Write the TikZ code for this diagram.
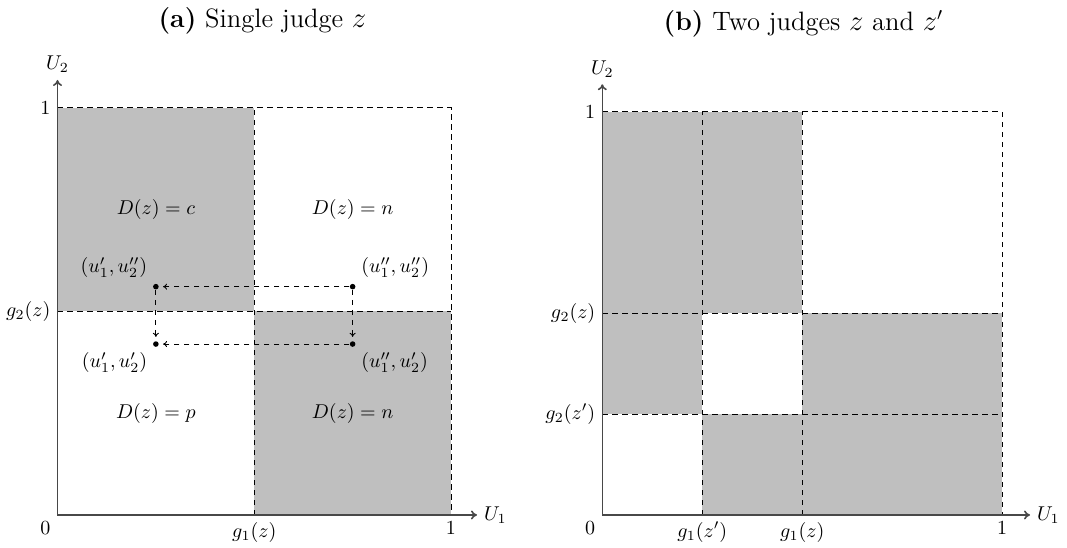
\documentclass[tikz,border=0pt]{standalone}
\usepackage{amsmath}
\usepackage{tikz}
\usetikzlibrary{arrows.meta,positioning,calc}
\definecolor{clrAx}{RGB}{72,72,72}
\definecolor{clrSh}{RGB}{191,191,191}
\tikzset{
  axis/.style={-{To[length=3pt,width=4.5pt]},line width=0.8pt,color=clrAx},
  cutline/.style={dashed,dash pattern=on 2.6pt off 2.4pt,line width=0.5pt},
  region/.style={fill=clrSh},
  move/.style={-{To[length=2pt,width=3pt]},dash pattern=on 2.6pt off 2.4pt,
    line width=0.45pt,shorten >=2pt},
  ptdot/.style={circle,fill=black,inner sep=0pt,minimum size=2.8pt},
  ptlab/.style={inner sep=3pt},
  cell/.style={inner sep=2pt},
  panel/.style={font=\fontsize{13.3}{16}\selectfont}
}

\begin{document}
\begin{tikzpicture}[x=1cm,y=1cm,font=\normalsize]
  \def\wa{6.915}
  \def\ha{7.152}
  \def\wb{7.024}
  \def\hb{7.082}
  \useasboundingbox (-1.0104,-0.5799) rectangle (17.740,9.050);

  \node[panel] (capa) at (3.602,8.685) {\textbf{(a)} Single judge $z$};
  \node[panel] (capb) at (13.109,8.628) {\textbf{(b)} Two judges $z$ and $z'$};

  \fill[region] (0,0.5*\ha) rectangle (0.5*\wa,\ha);
  \fill[region] (0.5*\wa,0) rectangle (\wa,0.5*\ha);

  \draw[cutline] (0,\ha) -- (\wa,\ha) -- (\wa,0);
  \draw[cutline] (0.5*\wa,0) -- (0.5*\wa,\ha);
  \draw[cutline] (0,0.5*\ha) -- (\wa,0.5*\ha);

  \coordinate (oa) at (0,0);
  \coordinate (xa) at (7.372,0);
  \coordinate (ya) at (0,7.644);
  \draw[axis] (oa) -- (xa);
  \draw[axis] (oa) -- (ya);

  \node[right] (ua1) at (xa) {$U_1$};
  \node[above] (ua2) at (ya) {$U_2$};
  \node[below left] (za) at (oa) {$0$};
  \node[below] (g1a) at (0.5*\wa,0) {$g_1(z)$};
  \node[below] (x1a) at (\wa,0) {$1$};
  \node[left] (y1a) at (0,\ha) {$1$};
  \node[left] (g2a) at (0,0.5*\ha) {$g_2(z)$};

  \node[cell] (dc) at (0.25*\wa,0.75*\ha) {$D(z)=c$};
  \node[cell] (dn) at (0.75*\wa,0.75*\ha) {$D(z)=n$};
  \node[cell] (dp) at (0.25*\wa,0.25*\ha) {$D(z)=p$};
  \node[cell] (dn2) at (0.75*\wa,0.25*\ha) {$D(z)=n$};

  \node[ptdot,label={[ptlab]above left:$(u_1',u_2'')$}] (ph) at (0.25*\wa,0.561*\ha) {};
  \node[ptdot,label={[ptlab]above right:$(u_1'',u_2'')$}] (hh) at (0.75*\wa,0.561*\ha) {};
  \node[ptdot,label={[ptlab]below left:$(u_1',u_2')$}] (pp) at (0.25*\wa,0.42*\ha) {};
  \node[ptdot,label={[ptlab]below right:$(u_1'',u_2')$}] (hp) at (0.75*\wa,0.42*\ha) {};

  \draw[move] (hh) -- (ph);
  \draw[move] (hp) -- (pp);
  \draw[move] (ph) -- (pp);
  \draw[move] (hh) -- (hp);

  \begin{scope}[shift={(9.574,0)}]
    \fill[region] (0,0.25*\hb) rectangle (0.25*\wb,\hb);
    \fill[region] (0.25*\wb,0) rectangle (0.5*\wb,0.25*\hb);
    \fill[region] (0.25*\wb,0.5*\hb) rectangle (0.5*\wb,\hb);
    \fill[region] (0.5*\wb,0) rectangle (\wb,0.5*\hb);

    \draw[cutline] (0,\hb) -- (\wb,\hb) -- (\wb,0);
    \draw[cutline] (0.25*\wb,0) -- (0.25*\wb,\hb);
    \draw[cutline] (0.5*\wb,0) -- (0.5*\wb,\hb);
    \draw[cutline] (0,0.25*\hb) -- (\wb,0.25*\hb);
    \draw[cutline] (0,0.5*\hb) -- (\wb,0.5*\hb);

    \coordinate (ob) at (0,0);
    \coordinate (xb) at (7.516,0);
    \coordinate (yb) at (0,7.569);
    \draw[axis] (ob) -- (xb);
    \draw[axis] (ob) -- (yb);

    \node[right] (ub1) at (xb) {$U_1$};
    \node[above] (ub2) at (yb) {$U_2$};
    \node[below left] (zb) at (ob) {$0$};
    \node[below] (g1zb) at (0.25*\wb,0) {$g_1(z')$};
    \node[below] (g1b) at (0.5*\wb,0) {$g_1(z)$};
    \node[below] (x1b) at (\wb,0) {$1$};
    \node[left] (y1b) at (0,\hb) {$1$};
    \node[left] (g2b) at (0,0.5*\hb) {$g_2(z)$};
    \node[left] (g2zb) at (0,0.25*\hb) {$g_2(z')$};
  \end{scope}
\end{tikzpicture}
\end{document}
